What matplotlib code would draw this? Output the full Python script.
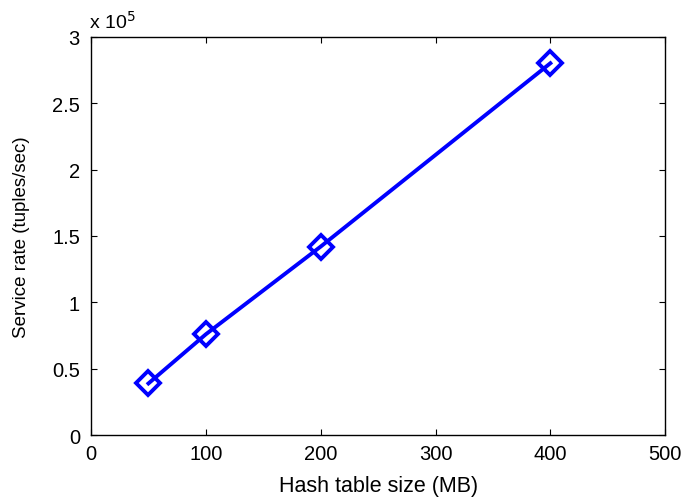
import matplotlib.pyplot as plt
import matplotlib.ticker as mticker

hash_size_mb = [50, 100, 200, 400]
service_rate = [0.39e5, 0.76e5, 1.42e5, 2.80e5]

x_ticks = [0, 100, 200, 300, 400, 500]
y_ticks = [0, 0.5e5, 1e5, 1.5e5, 2e5, 2.5e5, 3e5]

plt.rcParams.update({
    "font.family": ["Liberation Sans", "DejaVu Sans"],
    "font.size": 14,
    "xtick.direction": "in",
    "ytick.direction": "in",
    "xtick.top": True,
    "ytick.right": True,
    "axes.linewidth": 1.0,
})

fig = plt.figure(figsize=(6.86, 5.02), dpi=100)
ax = fig.add_axes([0.1327, 0.131, 0.837, 0.794])

ax.plot(hash_size_mb, service_rate, color="#0000ff", linewidth=2.8,
        marker="D", markersize=12.5, markerfacecolor="none",
        markeredgewidth=2.8, markeredgecolor="#0000ff")

ax.set_xlim(0, 500)
ax.set_ylim(0, 3e5)
ax.set_xticks(x_ticks)
ax.set_yticks(y_ticks)
ax.yaxis.set_major_formatter(
    mticker.FuncFormatter(lambda v, p: f"{v / 1e5:g}"))
ax.tick_params(length=4, width=0.8, labelsize=14.5)
ax.tick_params(axis="x", pad=6)
ax.tick_params(axis="y", pad=8)

ax.text(-0.003, 1.012, r"x 10$^{5}$", transform=ax.transAxes,
        fontsize=14, ha="left", va="bottom")

ax.set_xlabel("Hash table size (MB)", fontsize=15.5, labelpad=9)
ax.set_ylabel("Service rate (tuples/sec)", fontsize=13.5, labelpad=16)

fig.savefig("out.png", dpi=100)
